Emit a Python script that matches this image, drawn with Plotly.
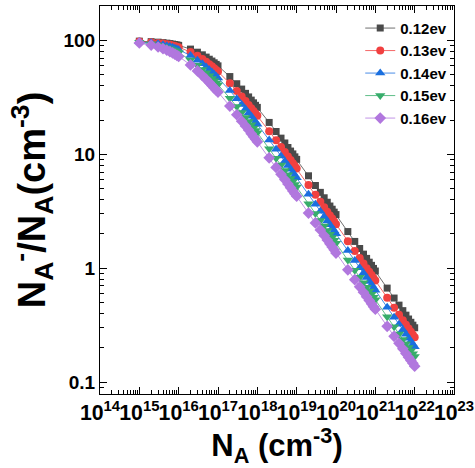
import plotly.graph_objects as go

# Acceptor concentration N_A (cm^-3)
na = [1e15, 2e15, 3e15, 4e15, 5e15, 6e15, 7e15, 8e15, 9e15,
      1e16, 2e16, 3e16, 4e16, 5e16, 6e16, 7e16, 8e16, 9e16,
      1e17, 2e17, 3e17, 4e17, 5e17, 6e17, 7e17, 8e17, 9e17,
      1e18, 2e18, 3e18, 4e18, 5e18, 6e18, 7e18, 8e18, 9e18,
      1e19, 2e19, 3e19, 4e19, 5e19, 6e19, 7e19, 8e19, 9e19,
      1e20, 2e20, 3e20, 4e20, 5e20, 6e20, 7e20, 8e20, 9e20,
      1e21, 2e21, 3e21, 4e21, 5e21, 6e21, 7e21, 8e21, 9e21,
      1e22]

ea_012 = [98.9, 97.9, 96.9, 95.9, 95.0, 94.1, 93.2, 92.4, 91.6,
          90.8, 84.2, 79.1, 75.0, 71.6, 68.6, 66.1, 63.8, 61.8,
          60.0, 48.3, 41.8, 37.5, 34.4, 32.0, 30.0, 28.4, 27.0,
          25.9, 19.1, 15.9, 13.9, 12.6, 11.5, 10.7, 10.1, 9.52,
          9.05, 6.49, 5.33, 4.64, 4.16, 3.80, 3.52, 3.30, 3.11,
          2.96, 2.10, 1.72, 1.49, 1.33, 1.22, 1.13, 1.06, 0.996,
          0.945, 0.669, 0.547, 0.474, 0.424, 0.387, 0.358, 0.335, 0.316,
          0.300]

ea_013 = [98.4, 96.9, 95.5, 94.2, 92.9, 91.8, 90.6, 89.5, 88.5,
          87.5, 79.4, 73.5, 68.9, 65.2, 62.1, 59.5, 57.2, 55.2,
          53.4, 42.1, 36.1, 32.2, 29.4, 27.2, 25.5, 24.1, 22.9,
          21.9, 16.0, 13.3, 11.6, 10.5, 9.60, 8.92, 8.37, 7.91,
          7.52, 5.38, 4.42, 3.84, 3.44, 3.14, 2.91, 2.73, 2.57,
          2.44, 1.73, 1.42, 1.23, 1.10, 1.00, 0.930, 0.870, 0.821,
          0.779, 0.551, 0.450, 0.390, 0.349, 0.319, 0.295, 0.276, 0.260,
          0.247]

ea_014 = [97.7, 95.6, 93.7, 91.9, 90.2, 88.7, 87.2, 85.8, 84.5,
          83.3, 73.8, 67.3, 62.5, 58.6, 55.5, 52.9, 50.6, 48.7,
          47.0, 36.4, 30.9, 27.5, 25.0, 23.1, 21.6, 20.3, 19.3,
          18.4, 13.4, 11.1, 9.69, 8.71, 7.98, 7.41, 6.95, 6.57,
          6.24, 4.46, 3.65, 3.17, 2.84, 2.60, 2.41, 2.25, 2.13,
          2.01, 1.43, 1.17, 1.01, 0.906, 0.827, 0.766, 0.717, 0.676,
          0.642, 0.454, 0.371, 0.322, 0.288, 0.263, 0.243, 0.228, 0.215,
          0.204]

ea_015 = [96.7, 93.8, 91.2, 88.8, 86.7, 84.8, 83.0, 81.3, 79.7,
          78.3, 67.6, 60.8, 55.8, 52.1, 49.0, 46.5, 44.3, 42.5,
          40.9, 31.2, 26.3, 23.3, 21.1, 19.5, 18.2, 17.1, 16.2,
          15.5, 11.2, 9.24, 8.06, 7.24, 6.63, 6.15, 5.77, 5.45,
          5.18, 3.69, 3.02, 2.62, 2.35, 2.15, 1.99, 1.86, 1.76,
          1.66, 1.18, 0.962, 0.834, 0.747, 0.682, 0.632, 0.591, 0.557,
          0.529, 0.375, 0.306, 0.265, 0.237, 0.217, 0.201, 0.188, 0.177,
          0.168]

ea_016 = [95.3, 91.3, 87.9, 85.0, 82.3, 80.0, 77.9, 76.0, 74.2,
          72.6, 61.1, 54.2, 49.3, 45.7, 42.8, 40.4, 38.4, 36.7,
          35.3, 26.6, 22.3, 19.6, 17.8, 16.4, 15.2, 14.3, 13.6,
          12.9, 9.33, 7.69, 6.69, 6.01, 5.50, 5.10, 4.78, 4.51,
          4.29, 3.05, 2.50, 2.17, 1.94, 1.77, 1.64, 1.54, 1.45,
          1.36, 0.969, 0.793, 0.687, 0.615, 0.562, 0.521, 0.487, 0.459,
          0.436, 0.309, 0.252, 0.219, 0.196, 0.178, 0.165, 0.155, 0.146,
          0.138]

series_names = ["0.12ev", "0.13ev", "0.14ev", "0.15ev", "0.16ev"]
series_vals = [ea_012, ea_013, ea_014, ea_015, ea_016]
colors = ["#4a4a4a", "#F14040", "#1A6FDF", "#37AD6B", "#B177DE"]
symbols = ["square", "circle", "triangle-up", "triangle-down", "diamond"]
sizes = [7, 8, 9, 9, 9]

FONT = "Liberation Sans, Arial, sans-serif"

fig = go.Figure()
for name, vals, col, sym, sz in zip(series_names, series_vals, colors, symbols, sizes):
    fig.add_trace(go.Scatter(
        x=na, y=vals, name=name, mode="lines+markers",
        line=dict(color=col, width=0.8),
        marker=dict(symbol=sym, size=sz, color=col, line=dict(width=0)),
    ))

axis_common = dict(
    type="log", showgrid=False, zeroline=False, automargin=False,
    showline=True, linecolor="black", linewidth=1.2, mirror="ticks",
    ticks="inside", ticklen=7, tickwidth=1.2, tickcolor="black",
    minor=dict(ticks="inside", ticklen=4, tickwidth=1, tickcolor="black", showgrid=False),
)

fig.update_xaxes(**axis_common, range=[14, 23], dtick=1, exponentformat="power",
                 tickangle=0,
                 tickfont=dict(family=FONT, size=17, color="black", weight="bold"),
                 title=dict(text="N<sub>A</sub> (cm<sup>-3</sup>)",
                            font=dict(family=FONT, size=31, color="black", weight="bold"),
                            standoff=10))
fig.update_yaxes(**axis_common, range=[-1.105, 2.304], dtick=1,
                 tickfont=dict(family=FONT, size=19, color="black", weight="bold"),
                 title=dict(text="N<sub>A</sub><sup>-</sup>/N<sub>A</sub>(cm<sup>-3</sup>)",
                            font=dict(family=FONT, size=38, color="black", weight="bold"),
                            standoff=6))

fig.update_layout(
    width=475, height=468,
    margin=dict(l=100, r=21, t=6, b=74),
    paper_bgcolor="white", plot_bgcolor="white",
    showlegend=True,
    legend=dict(x=0.995, y=0.985, xanchor="right", yanchor="top",
                bgcolor="rgba(0,0,0,0)", tracegroupgap=0,
                font=dict(family=FONT, size=15, color="black", weight="bold")),
)

fig.write_html("out.html")
